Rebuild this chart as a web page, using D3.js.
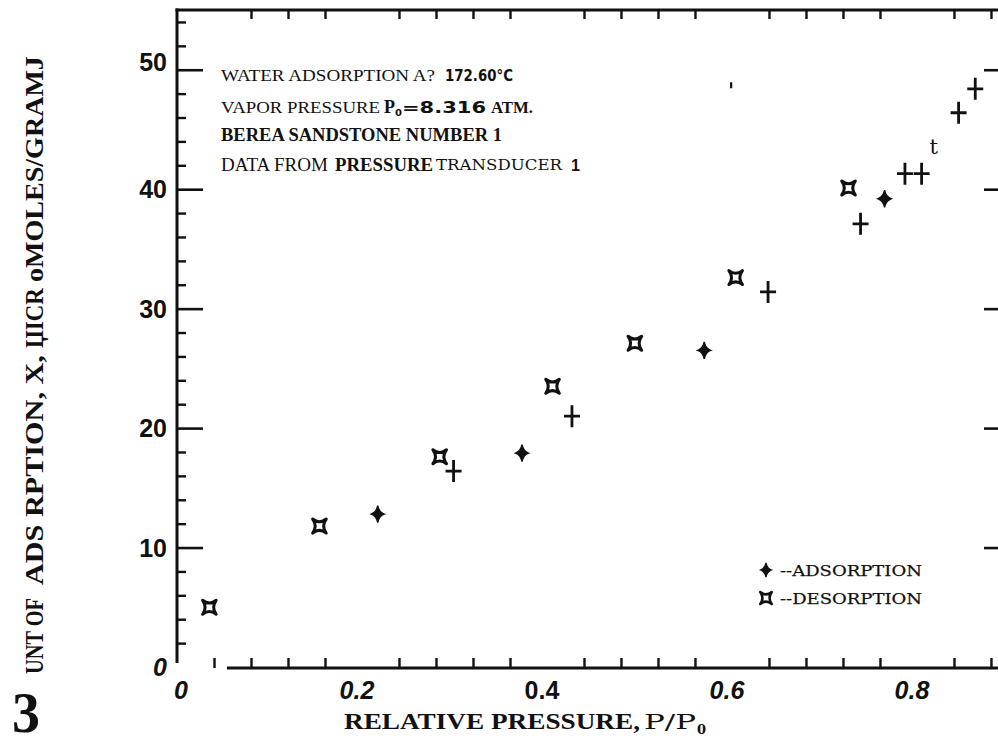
<!DOCTYPE html>
<html>
<head>
<meta charset="utf-8">
<script src="https://cdn.jsdelivr.net/npm/d3@7"></script>
<style>
  body { margin: 0; background: #fff; }
  svg { display: block; }
</style>
</head>
<body>
<svg id="chart" width="998" height="745"></svg>
<script>
// Water adsorption isotherm, Berea sandstone, 172.60 °C
// relative pressure P/P0 and amount adsorbed X (micromoles/gram)
const adsorptionP = [0.217, 0.299, 0.373, 0.427, 0.570, 0.639, 0.739, 0.765, 0.787, 0.805, 0.818, 0.845, 0.863];
const adsorptionX = [12.8, 16.4, 17.9, 21.0, 26.5, 31.4, 37.1, 39.2, 41.3, 41.3, 43.5, 46.4, 48.4];
// glyph the plotter left for each adsorption point
const adsorptionGlyph = ["star", "plus", "star", "plus", "star", "plus", "plus", "star", "plus", "plus", "t", "plus", "plus"];
const desorptionP = [0.035, 0.154, 0.284, 0.406, 0.495, 0.604, 0.726];
const desorptionX = [5.0, 11.8, 17.6, 23.5, 27.1, 32.6, 40.1];
// stray pen marks on the sheet
const strayP = [0.599];
const strayX = [48.7];

const xTickValues = [0, 0.2, 0.4, 0.6, 0.8];
const xTickLabels = ["0", "0.2", "0.4", "0.6", "0.8"];
const yTickValues = [0, 10, 20, 30, 40, 50];
const yTickLabels = ["0", "10", "20", "30", "40", "50"];

const svg = d3.select("#chart");
svg.append("rect").attr("width", 998).attr("height", 745).attr("fill", "#fff");

const x = d3.scaleLinear().domain([0, 0.8876]).range([177, 998]);
const y = d3.scaleLinear().domain([0, 55]).range([667, 10]);

const ink = "#111";
const serif = "'Liberation Serif', 'Times New Roman', serif";
const slab = "'DejaVu Serif', serif";
const sans = "'Liberation Sans', Arial, sans-serif";
const heavy = "'DejaVu Sans', sans-serif";

// minor tick positions
const xMinor = d3.range(1, 23).filter(i => i % 5 !== 0).map(i => i * 0.04);
const yMinor = d3.range(1, 28).filter(i => i % 5 !== 0).map(i => i * 2);

function styleAxis(g, w) {
  g.select(".domain").remove();
  g.selectAll(".tick line").attr("stroke", ink).attr("stroke-width", w);
  g.selectAll(".tick text").remove();
}

// left axis: majors and minors pointing inward
svg.append("g").attr("transform", `translate(${x(0)},0)`)
  .call(d3.axisLeft(y).tickValues(yTickValues.filter(v => v > 0)).tickSize(-26).tickFormat(""))
  .call(g => styleAxis(g, 2.6));
svg.append("g").attr("transform", `translate(${x(0)},0)`)
  .call(d3.axisLeft(y).tickValues(yMinor).tickSize(-9).tickFormat(""))
  .call(g => styleAxis(g, 2.4));

// right edge: majors only
svg.append("g").attr("transform", `translate(${x.range()[1]},0)`)
  .call(d3.axisRight(y).tickValues(yTickValues.filter(v => v > 0)).tickSize(-14).tickFormat(""))
  .call(g => styleAxis(g, 2.6));

// top edge ticks
svg.append("g").attr("transform", `translate(0,${y.range()[1]})`)
  .call(d3.axisTop(x).tickValues(xMinor.filter(v => v > 0.05)).tickSize(-9).tickFormat(""))
  .call(g => styleAxis(g, 2.4));

// bottom edge ticks
svg.append("g").attr("transform", `translate(0,${y(0) + 1})`)
  .call(d3.axisBottom(x).tickValues(xMinor).tickSize(-10).tickFormat(""))
  .call(g => styleAxis(g, 2.4));

// frame lines
svg.append("line").attr("x1", x(0)).attr("x2", x(0)).attr("y1", y.range()[1] - 1.5).attr("y2", y(0) - 4)
  .attr("stroke", ink).attr("stroke-width", 3);
svg.append("line").attr("x1", x(0) - 1.5).attr("x2", x.range()[1]).attr("y1", y.range()[1]).attr("y2", y.range()[1])
  .attr("stroke", ink).attr("stroke-width", 3);
svg.append("line").attr("x1", x(0.054)).attr("x2", x.range()[1]).attr("y1", y(0) + 1).attr("y2", y(0) + 1)
  .attr("stroke", ink).attr("stroke-width", 3);

// y tick labels
svg.append("g").selectAll("text").data(yTickValues).join("text")
  .attr("x", 167).attr("y", d => y(d) + (d === 50 ? -8 : 0))
  .attr("text-anchor", "end").attr("dominant-baseline", "central")
  .attr("font-family", sans).attr("font-weight", "bold").attr("font-size", 25)
  .attr("font-style", d => d === 0 ? "italic" : "normal")
  .attr("fill", ink)
  .text((d, i) => yTickLabels[i]);

// x tick labels
svg.append("g").selectAll("text").data(xTickValues).join("text")
  .attr("x", d => x(d) + (d === 0 ? 4 : -5))
  .attr("y", 699)
  .attr("text-anchor", "middle")
  .attr("font-family", sans).attr("font-weight", "bold").attr("font-size", 25)
  .attr("font-style", d => d === 0.4 ? "normal" : "italic")
  .attr("fill", ink)
  .text((d, i) => xTickLabels[i]);

// x axis title
const xt = svg.append("g").attr("fill", ink);
xt.append("text").attr("x", 344).attr("y", 729).attr("font-family", serif).attr("font-weight", "bold")
  .attr("font-size", 23).attr("textLength", 296).attr("lengthAdjust", "spacingAndGlyphs")
  .text("RELATIVE PRESSURE,");
xt.append("text").attr("x", 644).attr("y", 729).attr("font-family", slab)
  .attr("font-size", 21).attr("textLength", 52).attr("lengthAdjust", "spacingAndGlyphs")
  .text("P/P");
xt.append("text").attr("x", 697).attr("y", 734).attr("font-family", slab).attr("font-weight", "bold")
  .attr("font-size", 13).text("0");

// y axis title, written bottom to top; each run is stretched to its span
const ySegs = [
  { text: "UNT OF", y0: 674, len: 76 },
  { text: "ADS RPTION, X,", y0: 585, len: 230 },
  { text: "ЏICR", y0: 348, len: 60 },
  { text: "oMOLES/GRAMJ", y0: 282, len: 226 }
];
svg.append("g").selectAll("text").data(ySegs).join("text")
  .attr("font-family", serif).attr("font-weight", "bold").attr("font-size", 26)
  .attr("fill", ink)
  .text(d => d.text)
  .attr("transform", function (d) {
    const natural = this.getComputedTextLength();
    return `translate(43,${d.y0}) rotate(-90) scale(${d.len / natural},1)`;
  });
svg.append("text").attr("x", 26).attr("y", 732).attr("text-anchor", "middle")
  .attr("font-family", serif).attr("font-weight", "bold").attr("font-size", 56)
  .attr("fill", ink).text("3");

// annotation block
const notes = [
  { x: 221, y: 81, w: 214, t: "WATER ADSORPTION A?", f: serif, b: "normal", s: 16.5 },
  { x: 445, y: 81, w: 68, t: "172.60°C", f: heavy, b: "bold", s: 15 },
  { x: 221, y: 113, w: 159, t: "VAPOR PRESSURE", f: serif, b: "normal", s: 17.5 },
  { x: 384, y: 113, w: 11, t: "P", f: serif, b: "bold", s: 18 },
  { x: 395, y: 116, w: 7, t: "0", f: heavy, b: "bold", s: 9 },
  { x: 402, y: 113, w: 84, t: "=8.316", f: heavy, b: "bold", s: 15 },
  { x: 491, y: 113, w: 42, t: "ATM.", f: serif, b: "bold", s: 16 },
  { x: 221, y: 141, w: 281, t: "BEREA SANDSTONE NUMBER 1", f: serif, b: "bold", s: 19 },
  { x: 221, y: 171, w: 107, t: "DATA FROM", f: serif, b: "normal", s: 19 },
  { x: 335, y: 171, w: 98, t: "PRESSURE", f: serif, b: "bold", s: 18 },
  { x: 436, y: 170, w: 126, t: "TRANSDUCER", f: slab, b: "normal", s: 15 },
  { x: 571, y: 171, w: 9, t: "1", f: sans, b: "bold", s: 17 }
];
svg.append("g").selectAll("text").data(notes).join("text")
  .attr("x", d => d.x).attr("y", d => d.y)
  .attr("font-family", d => d.f).attr("font-weight", d => d.b).attr("font-size", d => d.s)
  .attr("textLength", d => d.w).attr("lengthAdjust", "spacingAndGlyphs")
  .attr("fill", ink)
  .text(d => d.t);

// marker shapes
const plusPath = "M0,-11V11M-8,0H8";
const starPath = "M0,-8.5Q1.4,-1.8 6.5,0Q1.4,1.8 0,8.5Q-1.4,1.8 -6.5,0Q-1.4,-1.8 0,-8.5Z";
const desPath = "M-6.8,-7Q0,-1.6 6.8,-7Q1.6,0 6.8,7Q0,1.6 -6.8,7Q-1.6,0 -6.8,-7Z";

function drawGlyph(sel, kind) {
  if (kind === "plus") {
    sel.append("path").attr("d", plusPath).attr("stroke", ink).attr("stroke-width", 2.8).attr("fill", "none");
  } else if (kind === "star") {
    sel.append("path").attr("d", starPath).attr("fill", ink).attr("stroke", ink).attr("stroke-width", 1.4);
  } else if (kind === "t") {
    sel.append("text").attr("text-anchor", "middle").attr("dominant-baseline", "central")
      .attr("font-family", slab).attr("font-size", 21).attr("fill", ink).text("t");
  } else {
    sel.append("path").attr("d", desPath).attr("stroke", ink).attr("stroke-width", 3)
      .attr("stroke-linejoin", "round").attr("fill", "none");
  }
}

// adsorption points
svg.append("g").selectAll("g").data(adsorptionP.map((p, i) => ({ p, v: adsorptionX[i], g: adsorptionGlyph[i] })))
  .join("g")
  .attr("transform", d => `translate(${x(d.p)},${y(d.v)})`)
  .each(function (d) { drawGlyph(d3.select(this), d.g); });

// desorption points
svg.append("g").selectAll("g").data(desorptionP.map((p, i) => ({ p, v: desorptionX[i] })))
  .join("g")
  .attr("transform", d => `translate(${x(d.p)},${y(d.v)})`)
  .each(function () { drawGlyph(d3.select(this), "des"); });

// stray marks
svg.append("g").selectAll("rect").data(strayP.map((p, i) => ({ p, v: strayX[i] })))
  .join("rect")
  .attr("x", d => x(d.p) - 1).attr("y", d => y(d.v) - 3).attr("width", 2.2).attr("height", 6).attr("fill", ink);

// legend
const legend = svg.append("g").attr("fill", ink);
const legendRows = [
  { kind: "star", label: "--ADSORPTION", cy: 570, by: 576 },
  { kind: "des", label: "--DESORPTION", cy: 598, by: 604 }
];
legendRows.forEach(r => {
  const g = legend.append("g").attr("transform", `translate(766,${r.cy}) scale(0.85)`);
  drawGlyph(g, r.kind);
  legend.append("text").attr("x", 780).attr("y", r.by)
    .attr("font-family", slab).attr("font-size", 15)
    .attr("textLength", 142).attr("lengthAdjust", "spacingAndGlyphs")
    .attr("stroke", ink).attr("stroke-width", 0.25)
    .text(r.label);
});
</script>
</body>
</html>
